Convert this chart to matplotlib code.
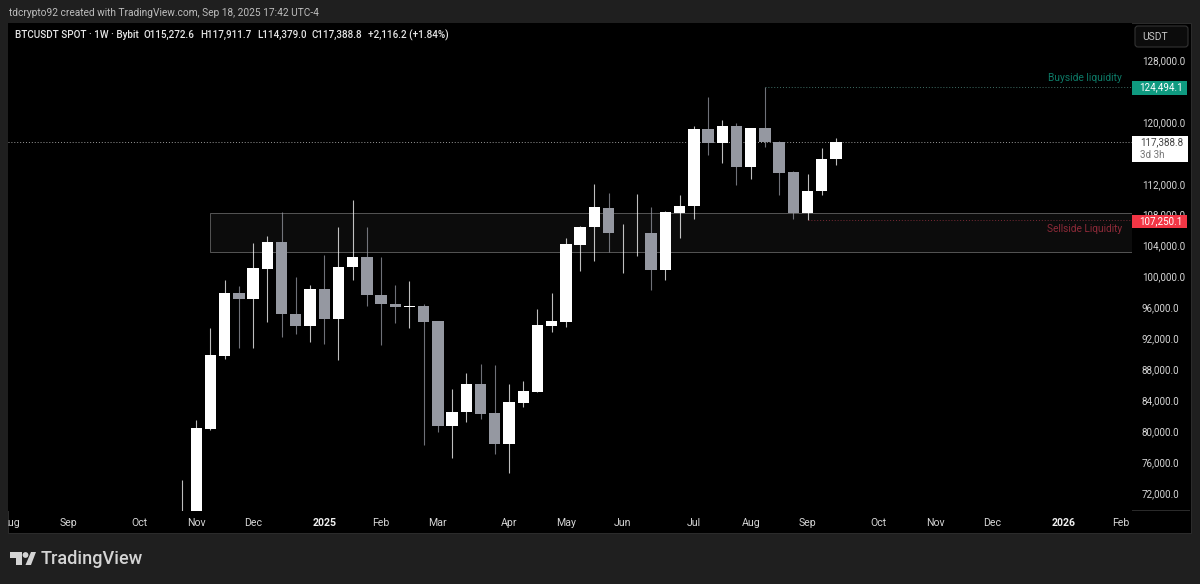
from matplotlib import pyplot as plt
from matplotlib.patches import Rectangle, Polygon, Circle, FancyBboxPatch
from matplotlib.transforms import Affine2D

plt.rcParams['font.family'] = ['Roboto', 'DejaVu Sans']

opens = [68000, 68700, 80300, 89748, 97903, 97087, 101010, 104466, 95146, 93631,
         98382, 94498, 101230, 102563, 97644, 96400, 96052, 96181, 94200, 80647,
         82459, 86084, 82330, 78317, 83625, 85087, 93631, 94149, 104078, 106408,
         108906, 105590, 105600, 105631, 100880, 108220, 109126, 119094, 117282, 119443,
         114175, 119262, 117372, 113490, 108180, 111030, 115272.6]
highs = [73657, 81424, 93333, 99547, 98809, 104337, 105282, 108350, 99974, 98939,
         102783, 106447, 109903, 106447, 102524, 98900, 99456, 96440, 94239, 85437,
         87508, 88712, 88544, 86084, 86472, 95793, 97864, 104984, 106576, 111974,
         110809, 106796, 110680, 108997, 108479, 110550, 119482, 123236, 120259, 119871,
         119262, 124494.1, 117540, 113657, 113307, 116673, 117911.7]
lows = [66800, 66800, 80130, 89320, 90783, 90783, 94110, 92207, 92557, 91521,
        91262, 89191, 99547, 96181, 91171, 94019, 93372, 78188, 79909, 76544,
        81165, 81553, 77061, 74563, 83107, 85050, 92815, 93424, 100712, 102045,
        103171, 100453, 102692, 98252, 99547, 105023, 107443, 115728, 114731, 111883,
        112660, 116764, 110550, 107400, 107250.1, 110550, 114379.0]
closes = [68700, 80388, 89838, 97903, 97087, 101100, 104466, 95146, 93631, 98382,
          94498, 101269, 102563, 97605, 96440, 96052, 96150, 94149, 80647, 82498,
          86084, 82239, 78317, 83754, 85178, 93683, 94201, 104168, 106447, 108997,
          105631, 105670, 105660, 100880, 108350, 109165, 119094, 117282, 119482, 114175,
          119262, 117372, 113437, 108220, 111068, 115210, 117388.8]

# 124,000 and 116,000 sit behind the price tags in the reference
price_ticks = [72000, 76000, 80000, 84000, 88000, 92000, 96000, 100000, 104000, 108000, 112000, 120000, 128000]
month_pos = [-12, -8, -3, 1, 5, 10, 14, 18, 23, 27, 31, 36, 40, 44, 49, 53, 57, 62, 66]
month_labels = ['Aug', 'Sep', 'Oct', 'Nov', 'Dec', '2025', 'Feb', 'Mar', 'Apr', 'May',
                'Jun', 'Jul', 'Aug', 'Sep', 'Oct', 'Nov', 'Dec', '2026', 'Feb']

last_price = 117388.8
buy_level = 124494.1
sell_level = 107250.1
zone_top = 108259
zone_bottom = 103133

OUTER = '#1f1f1f'
UP = '#ffffff'
DOWN = '#9598a1'
TEXT = '#d6d6d6'

fig = plt.figure(figsize=(12, 5.84), dpi=100, facecolor=OUTER)
px = Affine2D().scale(1 / 1200, -1 / 584).translate(0, 1) + fig.transFigure

# black pane behind chart + price scale
fig.add_artist(Rectangle((8, 23), 1183, 510, transform=px, fc='#000000', ec='#2c2c2c', lw=0.7, zorder=-2))

ax = fig.add_axes([8 / 1200, 1 - 510.7 / 584, 1124 / 1200, (510.7 - 22.7) / 584])
ax.set_facecolor('#000000')
for s in ax.spines.values():
    s.set_visible(False)
ax.set_xlim(-12.24, 66.82)
ax.set_ylim(69683, 132854)

ax.yaxis.tick_right()
ax.set_yticks(price_ticks)
ax.set_yticklabels(['{:,.1f}'.format(p) for p in price_ticks])
ax.tick_params(axis='y', length=0, pad=7, labelsize=7.1, labelcolor=TEXT)
ax.set_xticks(month_pos)
ax.set_xticklabels(month_labels)
ax.tick_params(axis='x', length=0, pad=5, labelsize=7.6, labelcolor=TEXT)
for lab in ax.get_xticklabels():
    if lab.get_text().startswith('20'):
        lab.set_fontweight('bold')
        lab.set_color('#f0f0f0')
ax.set_axisbelow(True)

# liquidity zone
ax.add_patch(Rectangle((2, zone_bottom), 66.82 - 2, zone_top - zone_bottom, fc='#0c0c0c', ec='#555555', lw=0.7, zorder=1))

# candles
for i in range(len(opens)):
    col = UP if closes[i] >= opens[i] else DOWN
    ax.vlines(i, lows[i], highs[i], color=col, lw=0.8, zorder=2, alpha=0.75)
    bottom = min(opens[i], closes[i])
    height = max(abs(closes[i] - opens[i]), 60)
    ax.bar(i, height, bottom=bottom, width=0.8, color=col, lw=0, zorder=3)

dots = (0, (1, 2))
ax.axhline(last_price, color='#9a9a9a', lw=0.7, ls=dots, zorder=2)
ax.plot([41, 66.82], [buy_level, buy_level], color='#3f6f66', lw=0.7, ls=dots, zorder=2)
ax.plot([44, 66.82], [sell_level, sell_level], color='#7a2a35', lw=0.7, ls=dots, zorder=2)

# labels on the lines
fig.text(1122, 78, 'Buyside liquidity', transform=px, color='#0d7a67', fontsize=7.4, ha='right', va='center')
fig.text(1122, 229, 'Sellside Liquidity', transform=px, color='#8c2a38', fontsize=7.3, ha='right', va='center')

# price tags
fig.add_artist(Rectangle((1132, 80.5), 55, 14, transform=px, fc='#0f9a80', lw=0, zorder=4))
fig.text(1139.5, 87.5, '{:,.1f}'.format(buy_level), transform=px, color='#ffffff', fontsize=7.1, va='center', zorder=5)
fig.add_artist(Rectangle((1132, 136), 55.5, 25.5, transform=px, fc='#ffffff', lw=0, zorder=4))
fig.text(1140, 142.5, '{:,.1f}'.format(last_price), transform=px, color='#444444', fontsize=7.1, va='center', zorder=5)
fig.text(1140, 154.5, '3d 3h', transform=px, color='#777777', fontsize=7.1, va='center', zorder=5)
fig.add_artist(Rectangle((1132, 214.5), 55, 13.5, transform=px, fc='#f23645', lw=0, zorder=4))
fig.text(1139.5, 221, '{:,.1f}'.format(sell_level), transform=px, color='#ffffff', fontsize=7.1, va='center', zorder=5)

# currency button
fig.add_artist(FancyBboxPatch((1137, 28), 49, 17, boxstyle='round,pad=2,rounding_size=3', transform=px,
                              fc='#0c0c0c', ec='#333333', lw=0.8, zorder=4))
fig.text(1142, 36.5, 'USDT', transform=px, color='#c8c8c8', fontsize=7.4, va='center', zorder=5)

fig.add_artist(Rectangle((1132, 510), 58, 0.8, transform=px, fc='#2a2a2a', lw=0, zorder=1))
# cut the first month label at the pane edge
fig.add_artist(Rectangle((0, 511), 8, 22, transform=px, fc=OUTER, lw=0, zorder=6))

# headers
fig.text(9, 13, 'tdcrypto92 created with TradingView.com, Sep 18, 2025 17:42 UTC-4', transform=px,
         color='#bdbdbd', fontsize=7.25, va='center')
legend_x = [15, 144, 200, 257, 312, 368]
legend_txt = ['BTCUSDT SPOT · 1W · Bybit', 'O115,272.6', 'H117,911.7', 'L114,379.0', 'C117,388.8', '+2,116.2 (+1.84%)']
for lx, lt in zip(legend_x, legend_txt):
    fig.text(lx, 35, lt, transform=px, color='#e6e6e6', fontsize=7.1, fontweight='medium', va='center')

# logo
logo = '#d4d4d4'
fig.add_artist(Polygon([(10, 552), (22, 552), (22, 565), (16, 565), (16, 558), (10, 558)], transform=px, fc=logo, lw=0))
fig.add_artist(Circle((25.5, 555), 2.9, transform=px, fc=logo, lw=0))
fig.add_artist(Polygon([(31, 552), (36, 552), (31, 565), (25.5, 565)], transform=px, fc=logo, lw=0))
fig.text(41, 558.5, 'TradingView', transform=px, color=logo, fontsize=13.1, fontweight='medium', va='center')

fig.savefig('out.png', dpi=100, facecolor=OUTER)
